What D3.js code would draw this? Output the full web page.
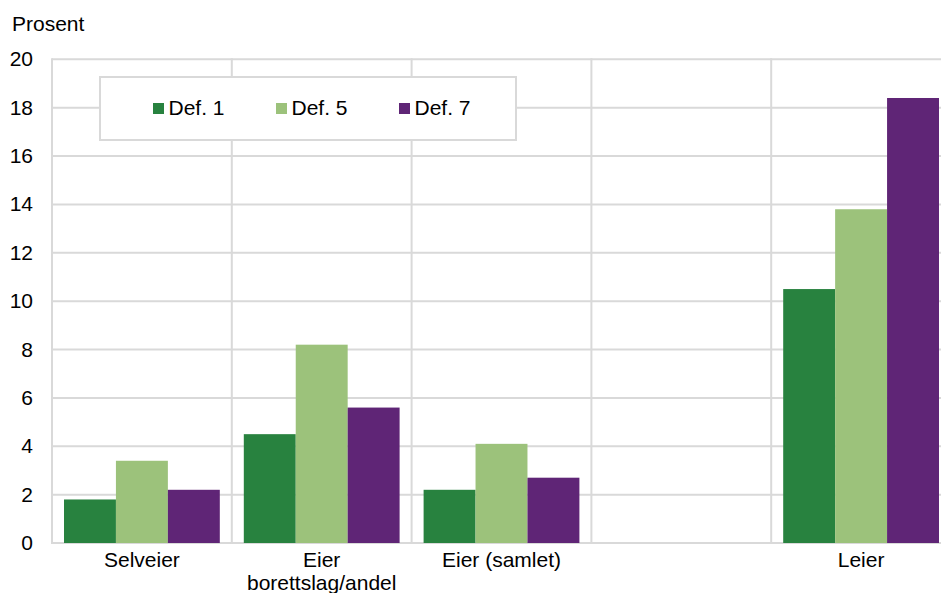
<!DOCTYPE html>
<html>
<head>
<meta charset="utf-8">
<script src="https://cdn.jsdelivr.net/npm/d3@7"></script>
<style>
  body { margin: 0; background: #fff; }
  svg { display: block; font-family: "Liberation Sans", Arial, sans-serif; }
</style>
</head>
<body>
<div id="chart"></div>
<script>
// categories (empty slot between Eier (samlet) and Leier)
var categories = ["Selveier", "Eier\nborettslag/andel", "Eier (samlet)", "", "Leier"];
var series = ["Def. 1", "Def. 5", "Def. 7"];
var colors = ["#28823f", "#9cc27b", "#5f2576"];

var def1 = [1.8, 4.5, 2.2, null, 10.5];
var def5 = [3.4, 8.2, 4.1, null, 13.8];
var def7 = [2.2, 5.6, 2.7, null, 18.4];

var yTicks = [0, 2, 4, 6, 8, 10, 12, 14, 16, 18, 20];

var W = 941, H = 593;
var plotL = 52, plotR = 951, plotT = 59.3, plotB = 543;
var fs = 21;

var svg = d3.select("#chart").append("svg")
    .attr("width", W).attr("height", H);

var x0 = d3.scaleBand().domain(categories).range([plotL, plotR]).padding(0);
var x1 = d3.scaleBand().domain(series).range([12, x0.bandwidth() - 12]).padding(0);
var y = d3.scaleLinear().domain([0, 20]).range([plotB, plotT]);

var grid = "#d9d9d9";

// horizontal gridlines
svg.append("g").selectAll("line").data(yTicks).enter().append("line")
    .attr("x1", plotL).attr("x2", plotR)
    .attr("y1", d => y(d)).attr("y2", d => y(d))
    .attr("stroke", grid).attr("stroke-width", 2);

// vertical gridlines at band boundaries
svg.append("g").selectAll("line").data(categories).enter().append("line")
    .attr("x1", d => x0(d)).attr("x2", d => x0(d))
    .attr("y1", plotT - 1).attr("y2", plotB + 1)
    .attr("stroke", grid).attr("stroke-width", 2);

// y tick labels
svg.append("g").selectAll("text").data(yTicks).enter().append("text")
    .attr("x", 33).attr("y", d => y(d) + 7)
    .attr("text-anchor", "end")
    .attr("font-size", fs).attr("fill", "#000")
    .text(d => d);

svg.append("text").attr("x", 12).attr("y", 31)
    .attr("font-size", fs).attr("fill", "#000").text("Prosent");

// bars
var rows = categories.map((c, i) => ({cat: c, vals: [def1[i], def5[i], def7[i]]}));
var groups = svg.append("g").selectAll("g").data(rows).enter().append("g")
    .attr("transform", d => "translate(" + x0(d.cat) + ",0)");
groups.selectAll("rect")
    .data(d => d.vals.map((v, j) => ({s: series[j], v: v, c: colors[j]})).filter(e => e.v != null))
    .enter().append("rect")
    .attr("x", d => x1(d.s))
    .attr("width", x1.bandwidth())
    .attr("y", d => y(d.v))
    .attr("height", d => y(0) - y(d.v))
    .attr("fill", d => d.c);

// x labels
var xl = svg.append("g").selectAll("text").data(categories).enter().append("text")
    .attr("x", d => x0(d) + x0.bandwidth() / 2)
    .attr("y", 567)
    .attr("text-anchor", "middle")
    .attr("font-size", fs).attr("fill", "#000");
xl.each(function(d) {
  var lines = d.split("\n");
  var t = d3.select(this);
  lines.forEach((l, i) => {
    t.append("tspan").attr("x", x0(d) + x0.bandwidth() / 2)
      .attr("dy", i === 0 ? 0 : 23).text(l);
  });
});

// legend
var lg = svg.append("g");
lg.append("rect").attr("x", 100).attr("y", 77).attr("width", 416).attr("height", 63)
    .attr("fill", "#fff").attr("stroke", grid).attr("stroke-width", 2);
var legX = [153, 276, 399];
series.forEach((s, i) => {
  lg.append("rect").attr("x", legX[i]).attr("y", 103).attr("width", 11).attr("height", 11)
    .attr("fill", colors[i]);
  lg.append("text").attr("x", legX[i] + 15.5).attr("y", 115)
    .attr("font-size", fs).attr("fill", "#000").text(s);
});
</script>
</body>
</html>
